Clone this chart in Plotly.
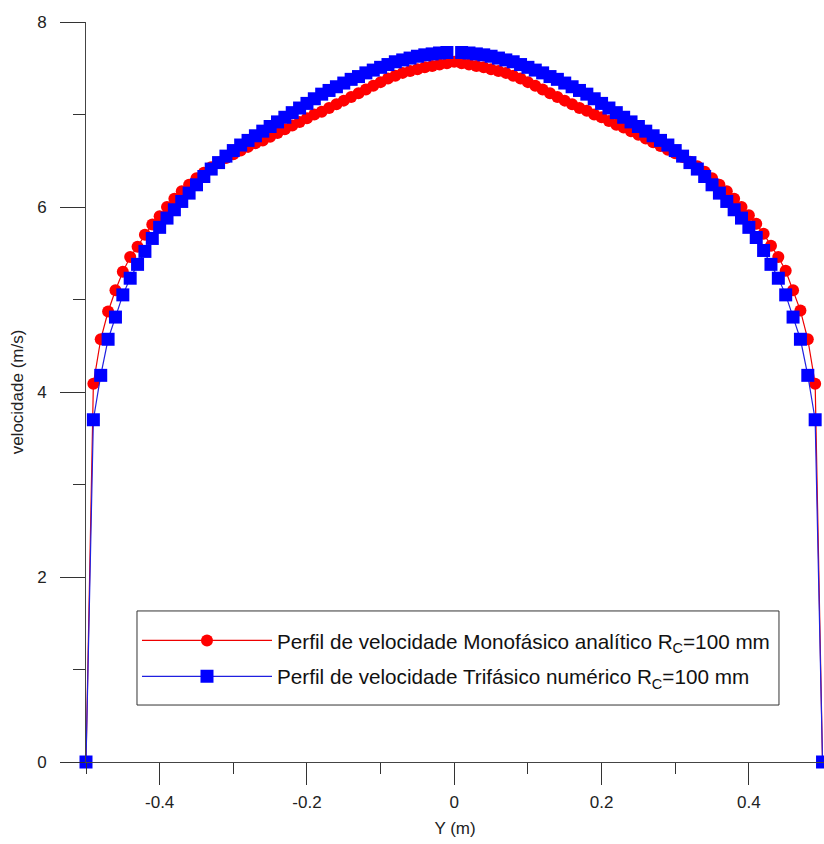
import plotly.graph_objects as go

# ---------------- data ----------------
y_pos = [-0.50, -0.49, -0.48, -0.47, -0.46, -0.45, -0.44, -0.43, -0.42, -0.41,
         -0.40, -0.39, -0.38, -0.37, -0.36, -0.35, -0.34, -0.33, -0.32, -0.31,
         -0.30, -0.29, -0.28, -0.27, -0.26, -0.25, -0.24, -0.23, -0.22, -0.21,
         -0.20, -0.19, -0.18, -0.17, -0.16, -0.15, -0.14, -0.13, -0.12, -0.11,
         -0.10, -0.09, -0.08, -0.07, -0.06, -0.05, -0.04, -0.03, -0.02, -0.01,
         0.00,
         0.01, 0.02, 0.03, 0.04, 0.05, 0.06, 0.07, 0.08, 0.09, 0.10,
         0.11, 0.12, 0.13, 0.14, 0.15, 0.16, 0.17, 0.18, 0.19, 0.20,
         0.21, 0.22, 0.23, 0.24, 0.25, 0.26, 0.27, 0.28, 0.29, 0.30,
         0.31, 0.32, 0.33, 0.34, 0.35, 0.36, 0.37, 0.38, 0.39, 0.40,
         0.41, 0.42, 0.43, 0.44, 0.45, 0.46, 0.47, 0.48, 0.49, 0.50]

# Monofasico analitico (red circles)
vel_mono = [0.00, 4.09, 4.57, 4.87, 5.10, 5.30, 5.46, 5.57, 5.70, 5.81,
            5.90, 6.00, 6.09, 6.17, 6.24, 6.31, 6.37, 6.43, 6.48, 6.53,
            6.57, 6.61, 6.65, 6.69, 6.72, 6.76, 6.80, 6.84, 6.88, 6.92,
            6.96, 7.00, 7.03, 7.07, 7.11, 7.15, 7.19, 7.23, 7.27, 7.31,
            7.35, 7.39, 7.42, 7.45, 7.47, 7.49, 7.51, 7.525, 7.54, 7.555,
            7.57,
            7.555, 7.54, 7.525, 7.51, 7.49, 7.47, 7.45, 7.42, 7.39, 7.35,
            7.31, 7.27, 7.23, 7.19, 7.15, 7.11, 7.07, 7.04, 7.00, 6.97,
            6.93, 6.89, 6.86, 6.82, 6.78, 6.74, 6.70, 6.66, 6.62, 6.58,
            6.54, 6.49, 6.44, 6.38, 6.31, 6.24, 6.17, 6.09, 6.00, 5.91,
            5.82, 5.71, 5.58, 5.46, 5.31, 5.10, 4.88, 4.57, 4.09, 0.00]

# Trifasico numerico (blue squares) - no value at the centre line
vel_tri = [0.00, 3.70, 4.18, 4.57, 4.81, 5.05, 5.23, 5.38, 5.52, 5.66,
           5.78, 5.88, 5.97, 6.06, 6.15, 6.24, 6.33, 6.41, 6.48, 6.55,
           6.61, 6.67, 6.72, 6.77, 6.82, 6.87, 6.92, 6.97, 7.02, 7.07,
           7.12, 7.17, 7.22, 7.26, 7.30, 7.34, 7.38, 7.41, 7.45, 7.48,
           7.51, 7.54, 7.57, 7.59, 7.61, 7.63, 7.645, 7.655, 7.665, 7.67,
           None,
           7.67, 7.665, 7.655, 7.645, 7.63, 7.61, 7.59, 7.57, 7.54, 7.51,
           7.48, 7.45, 7.41, 7.38, 7.34, 7.30, 7.26, 7.22, 7.17, 7.12,
           7.07, 7.02, 6.97, 6.92, 6.87, 6.82, 6.77, 6.72, 6.67, 6.61,
           6.55, 6.48, 6.41, 6.33, 6.24, 6.15, 6.06, 5.97, 5.88, 5.78,
           5.67, 5.53, 5.38, 5.23, 5.05, 4.81, 4.57, 4.18, 3.70, 0.00]

x_major = [-0.4, -0.2, 0, 0.2, 0.4]
x_major_text = ["-0.4", "-0.2", "0", "0.2", "0.4"]
x_minor = [-0.5, -0.3, -0.1, 0.1, 0.3]
y_major = [0, 2, 4, 6, 8]
y_minor = [1, 3, 5, 7]

name_mono = "Perfil de velocidade Monofásico analítico R<sub>C</sub>=100 mm"
name_tri = "Perfil de velocidade Trifásico numérico R<sub>C</sub>=100 mm"

FONT = "Liberation Sans, Arial, sans-serif"

fig = go.Figure()
fig.add_trace(go.Scatter(
    x=y_pos, y=vel_mono, mode="lines+markers", name=name_mono,
    line=dict(color="#ee0000", width=1.2),
    marker=dict(symbol="circle", size=12, color="#ff0000", line=dict(width=0)),
    cliponaxis=False, legendgroup="mono", connectgaps=False))
fig.add_trace(go.Scatter(
    x=y_pos, y=vel_tri, mode="lines+markers", name=name_tri,
    line=dict(color="#2020e0", width=1.2),
    marker=dict(symbol="square", size=13, color="#0000ff", line=dict(width=0)),
    cliponaxis=False, legendgroup="tri", connectgaps=False))

fig.update_layout(
    width=824, height=844,
    margin=dict(l=86, r=0, t=22, b=82, pad=0),
    paper_bgcolor="white", plot_bgcolor="white",
    font=dict(family=FONT, color="#222"),
    showlegend=True,
    legend=dict(x=0.0691, y=0.1399, xanchor="left", yanchor="middle",
                bgcolor="rgba(0,0,0,0)", borderwidth=0,
                font=dict(size=20.7, family=FONT, color="#111"),
                itemwidth=130, tracegroupgap=6, traceorder="grouped"),
    shapes=[dict(type="rect", xref="paper", yref="paper",
                 x0=0.0691, x1=0.939, y0=0.077, y1=0.2041,
                 line=dict(color="#333", width=1), fillcolor="white", layer="above")],
)

fig.update_xaxes(
    range=[-0.5, 0.502], showgrid=False, zeroline=False, automargin=False,
    showline=True, linecolor="#444", linewidth=1,
    ticks="outside", ticklen=22, tickcolor="#333", tickwidth=1,
    tickmode="array", tickvals=x_major, ticktext=x_major_text,
    tickfont=dict(size=17, family=FONT, color="#222"),
    ticklabelstandoff=3,
    minor=dict(ticks="outside", ticklen=11, tickcolor="#333", tickwidth=1,
               tickmode="array", tickvals=x_minor, showgrid=False),
    title=dict(text="Y (m)", font=dict(size=17, family=FONT, color="#222"), standoff=10),
)
fig.update_yaxes(
    range=[0, 8], showgrid=False, zeroline=False, automargin=False,
    showline=True, linecolor="#444", linewidth=1,
    ticks="outside", ticklen=25, tickcolor="#333", tickwidth=1,
    tickmode="array", tickvals=y_major,
    tickfont=dict(size=17, family=FONT, color="#222"),
    ticklabelstandoff=10,
    minor=dict(ticks="outside", ticklen=12, tickcolor="#333", tickwidth=1,
               tickmode="array", tickvals=y_minor, showgrid=False),
    title=dict(text="velocidade (m/s)", font=dict(size=17, family=FONT, color="#222"), standoff=9),
)

fig.write_html("out.html", config={"displayModeBar": False},
               post_script="document.body.style.margin='0';document.body.style.overflow='hidden';")
